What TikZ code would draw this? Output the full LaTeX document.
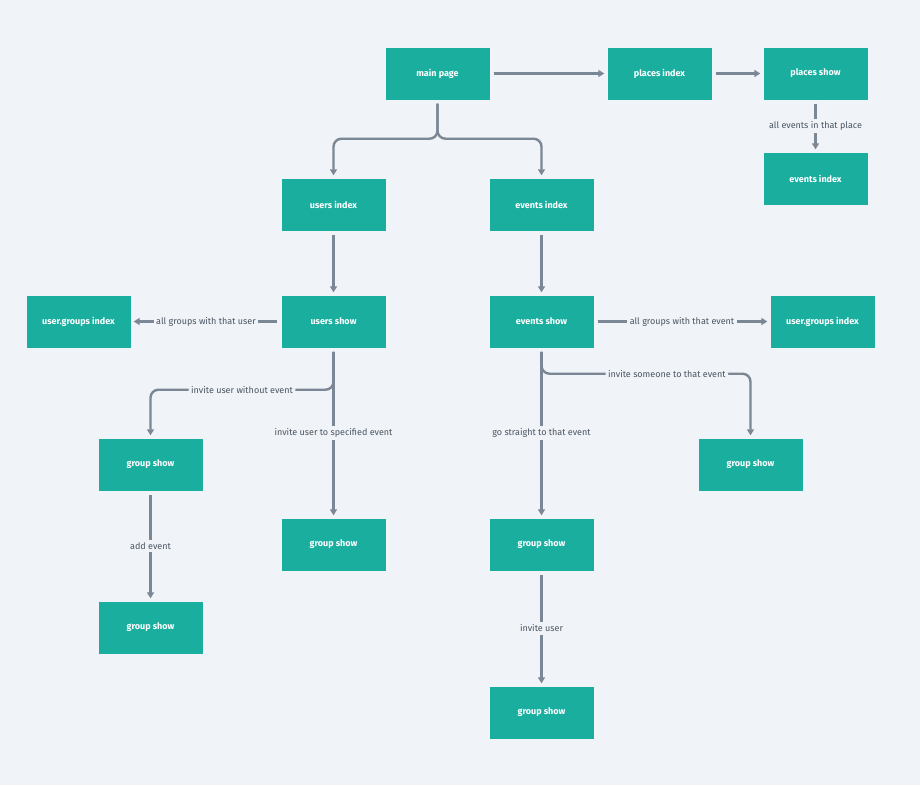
\documentclass[tikz,border=0pt]{standalone}
\usepackage{fontspec}
\setmainfont{Fira Sans}
\usetikzlibrary{arrows.meta,positioning,calc}
\definecolor{bg}{HTML}{F0F3F7}
\definecolor{teal}{HTML}{1AAE9F}
\definecolor{conn}{HTML}{7B8794}
\definecolor{lbl}{HTML}{4A5562}
\begin{document}
\begin{tikzpicture}[x=1pt,y=-1pt,
  box/.style={fill=teal,minimum width=104pt,minimum height=52pt,inner sep=0pt,text=white,font=\fontsize{9}{10}\selectfont\bfseries},
  link/.style={draw=conn,line width=2.4pt,shorten <=4pt,shorten >=3pt,-{Triangle[length=6pt,width=7pt]}},
  lab/.style={fill=bg,text=lbl,inner sep=2.5pt,font=\fontsize{9}{10}\selectfont}]
\fill[bg] (0,0) rectangle (920,785);
\useasboundingbox (0,0) rectangle (920,785);
\node[box] (mp) at (437.5,73.5) {main page};
\node[box] (pi) at (659.5,73.5) {places index};
\node[box] (ps) at (815.5,73.5) {places show};
\node[box] (pe) at (815.5,178.5) {events index};
\node[box] (ui) at (333.5,204.5) {users index};
\node[box] (ei) at (541.5,204.5) {events index};
\node[box] (ugl) at (78.5,321.5) {user.groups index};
\node[box] (us) at (333.5,321.5) {users show};
\node[box] (es) at (541.5,321.5) {events show};
\node[box] (ugr) at (822.5,321.5) {user.groups index};
\node[box] (g1) at (150.5,464.5) {group show};
\node[box] (g2) at (750.5,464.5) {group show};
\node[box] (g3) at (333.5,544.5) {group show};
\node[box] (g4) at (541.5,544.5) {group show};
\node[box] (g5) at (150.5,627.5) {group show};
\node[box] (g6) at (541.5,712.5) {group show};

\draw[link] (mp) -- (pi);
\draw[link] (pi) -- (ps);
\draw[link] (ps) -- node[lab]{all events in that place} (pe);
\draw[link,rounded corners=8pt] (mp.south) -- ++(0,39) -| (ui.north);
\draw[link,rounded corners=8pt] (mp.south) -- ++(0,39) -| (ei.north);
\draw[link] (ui) -- (us);
\draw[link] (ei) -- (es);
\draw[link] (us) -- node[lab]{all groups with that user} (ugl);
\draw[link] (es) -- node[lab]{all groups with that event} (ugr);
\draw[link] (us) -- node[lab]{invite user to specified event} (g3);
\draw[link,rounded corners=8pt] (us.south) -- ++(0,42) -| node[lab,pos=0.25]{invite user without event} (g1.north);
\draw[link] (es) -- node[lab]{go straight to that event} (g4);
\draw[link,rounded corners=8pt] (es.south) -- ++(0,26) -| node[lab,pos=0.3]{invite someone to that event} (g2.north);
\draw[link] (g1) -- node[lab]{add event} (g5);
\draw[link] (g4) -- node[lab]{invite user} (g6);
\end{tikzpicture}
\end{document}
